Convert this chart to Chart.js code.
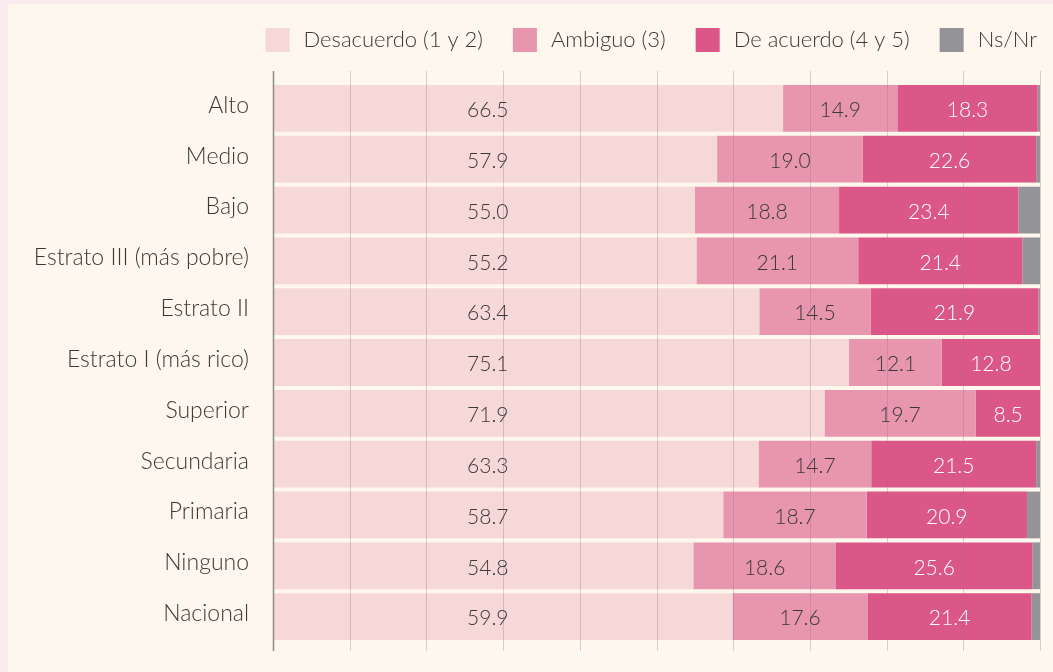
<!DOCTYPE html>
<html>
<head>
<meta charset="utf-8">
<script src="https://cdn.jsdelivr.net/npm/chart.js@4/dist/chart.umd.min.js"></script>
<style>
  html, body { margin: 0; padding: 0; background: #fbebf0; }
  #frame { position: absolute; left: 8px; top: 4px; width: 1045px; height: 668px; background: #fdf7ed; }
  #frame canvas { display: block; }
</style>
</head>
<body>
<div id="frame"><canvas id="grafico"></canvas></div>
<script>
var categorias = ["Alto", "Medio", "Bajo", "Estrato III (más pobre)", "Estrato II", "Estrato I (más rico)", "Superior", "Secundaria", "Primaria", "Ninguno", "Nacional"];
var desacuerdo = [66.5, 57.9, 55.0, 55.2, 63.4, 75.1, 71.9, 63.3, 58.7, 54.8, 59.9];
var ambiguo = [14.9, 19.0, 18.8, 21.1, 14.5, 12.1, 19.7, 14.7, 18.7, 18.6, 17.6];
var deAcuerdo = [18.3, 22.6, 23.4, 21.4, 21.9, 12.8, 8.5, 21.5, 20.9, 25.6, 21.4];
var nsNr = [0.3, 0.5, 2.8, 2.3, 0.2, 0, 0, 0.5, 1.7, 1.0, 1.1];
var divisiones = [0, 10, 20, 30, 40, 50, 60, 70, 80, 90, 100];

var FUENTE = "Lato, 'Open Sans', sans-serif";
var TEXTO = "#3b3838";

// lineas verticales por encima de las barras y etiquetas de valores
var capaSuperior = {
  id: "capaSuperior",
  afterDatasetsDraw: function (chart) {
    var ctx = chart.ctx;
    var x = chart.scales.x;
    var area = chart.chartArea;
    ctx.save();
    divisiones.forEach(function (v) {
      var px = Math.round(x.getPixelForValue(v)) + 0.5;
      ctx.strokeStyle = v === 0 ? "#8e8a8a" : "rgba(150, 115, 135, 0.32)";
      ctx.lineWidth = v === 0 ? 1.5 : 1;
      ctx.beginPath();
      ctx.moveTo(px, area.top - 12);
      ctx.lineTo(px, area.bottom + 9);
      ctx.stroke();
    });

    ctx.font = "300 21px " + FUENTE;
    ctx.textAlign = "center";
    ctx.textBaseline = "middle";
    for (var d = 0; d < 3; d++) {
      var meta = chart.getDatasetMeta(d);
      var datos = chart.data.datasets[d].data;
      meta.data.forEach(function (bar, i) {
        // la primera serie lleva su etiqueta en una columna fija
        var cx = d === 0 ? x.getPixelForValue(28) : (bar.x + bar.base) / 2;
        ctx.fillStyle = d === 2 ? "#ffffff" : TEXTO;
        ctx.fillText(datos[i].toFixed(1), cx, bar.y + 2);
      });
    }
    ctx.restore();
  }
};

// leyenda en una fila, alineada a la derecha
var leyenda = {
  id: "leyenda",
  afterDraw: function (chart) {
    var ctx = chart.ctx;
    var series = chart.data.datasets;
    ctx.save();
    ctx.font = "300 22px " + FUENTE;
    ctx.textAlign = "left";
    ctx.textBaseline = "middle";
    var anchos = series.map(function (ds) {
      return 24 + 14 + ctx.measureText(ds.label).width;
    });
    var total = anchos.reduce(function (a, b) { return a + b; }, 0) + 30 * (series.length - 1);
    var x = chart.chartArea.right - 3 - total;
    series.forEach(function (ds, i) {
      ctx.fillStyle = ds.backgroundColor;
      ctx.fillRect(x, 24, 24, 24);
      ctx.fillStyle = TEXTO;
      ctx.fillText(ds.label, x + 38, 36);
      x += anchos[i] + 30;
    });
    ctx.restore();
  }
};

var ctx = document.getElementById("grafico").getContext("2d");
var chart = new Chart(ctx, {
  type: "bar",
  data: {
    labels: categorias,
    datasets: [
      { label: "Desacuerdo (1 y 2)", data: desacuerdo, backgroundColor: "#f6d8d8" },
      { label: "Ambiguo (3)", data: ambiguo, backgroundColor: "#e896af" },
      { label: "De acuerdo (4 y 5)", data: deAcuerdo, backgroundColor: "#db5787" },
      { label: "Ns/Nr", data: nsNr, backgroundColor: "#949498" }
    ]
  },
  options: {
    indexAxis: "y",
    responsive: true,
    maintainAspectRatio: false,
    animation: false,
    barPercentage: 0.92,
    categoryPercentage: 1.0,
    layout: { padding: { top: 79, right: 13, bottom: 30, left: 0 } },
    scales: {
      x: {
        stacked: true,
        min: 0,
        max: 100,
        display: false
      },
      y: {
        stacked: true,
        grid: { display: false, drawTicks: false },
        border: { display: false },
        ticks: {
          color: TEXTO,
          padding: 24,
          labelOffset: -3,
          font: { family: FUENTE, size: 23, weight: "300" }
        },
        afterFit: function (scale) {
          // ancho fijo y sin margen vertical extra por las etiquetas
          scale.width = 265;
          scale.paddingTop = 0;
          scale.paddingBottom = 0;
        }
      }
    },
    plugins: {
      tooltip: { enabled: false },
      legend: { display: false }
    }
  },
  plugins: [capaSuperior, leyenda]
});
</script>
</body>
</html>
